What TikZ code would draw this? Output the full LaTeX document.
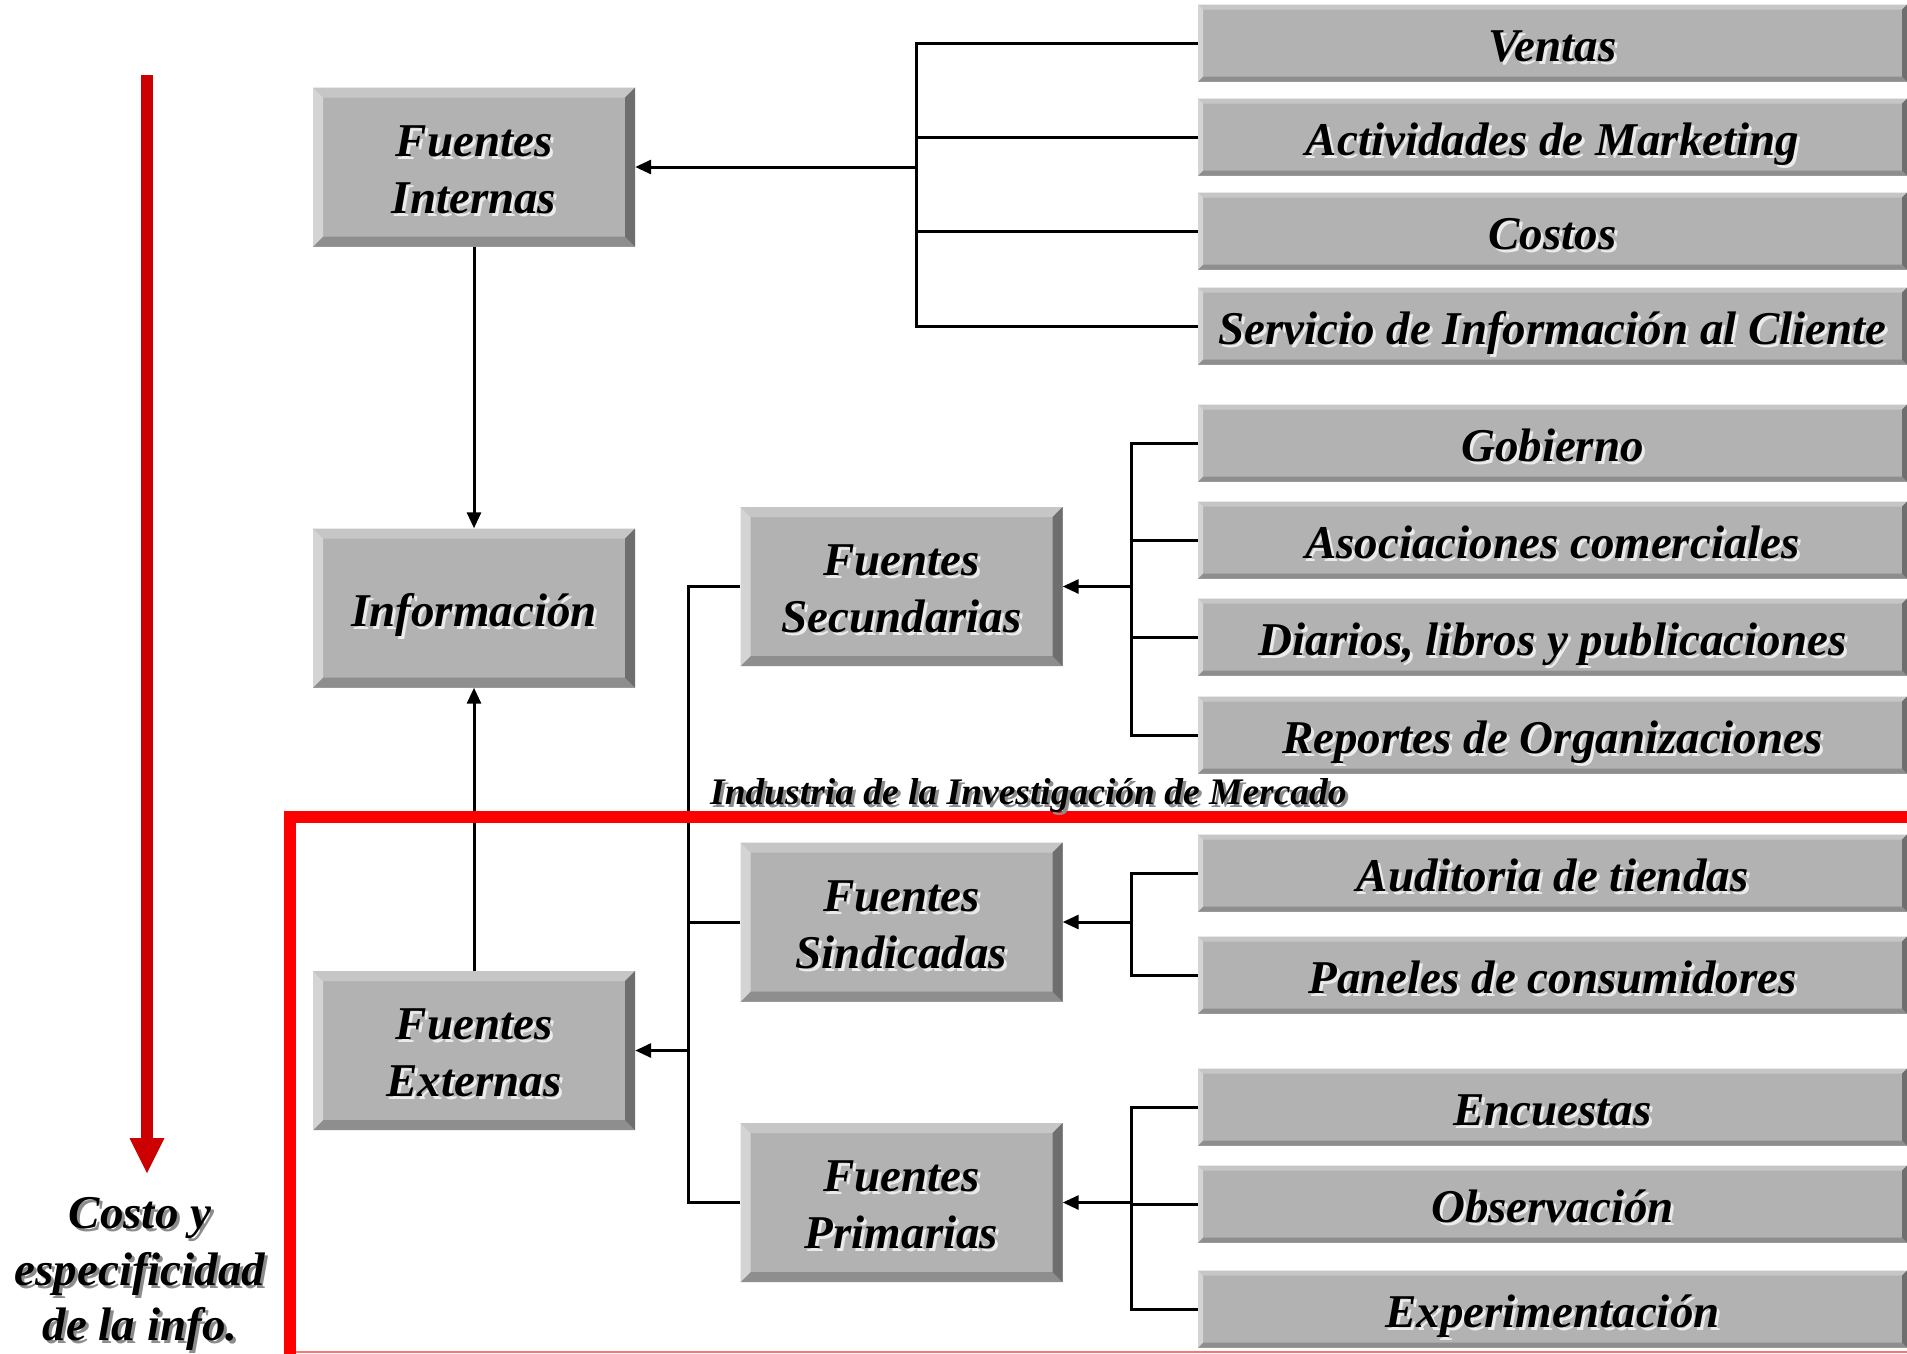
\documentclass[tikz,border=0pt]{standalone}
\usepackage{fontspec}
\setmainfont{Liberation Serif}
\usetikzlibrary{arrows.meta,calc}
\definecolor{face}{HTML}{B2B2B2}
\definecolor{bvT}{HTML}{C6C6C6}
\definecolor{bvL}{HTML}{D4D4D4}
\definecolor{bvR}{HTML}{6E6E6E}
\definecolor{bvB}{HTML}{8E8E8E}
\definecolor{darkred}{HTML}{CC0000}
\definecolor{brightred}{HTML}{FF0000}
\tikzset{
  bevbox/.style={rectangle, fill=face, inner sep=0pt, path picture={
    \fill[bvT] (path picture bounding box.north west) -- (path picture bounding box.north east)
       -- ([xshift=-#1,yshift=-#1]path picture bounding box.north east)
       -- ([xshift=#1,yshift=-#1]path picture bounding box.north west) -- cycle;
    \fill[bvB] (path picture bounding box.south west) -- ([xshift=#1,yshift=#1]path picture bounding box.south west)
       -- ([xshift=-#1,yshift=#1]path picture bounding box.south east)
       -- (path picture bounding box.south east) -- cycle;
    \fill[bvL] (path picture bounding box.north west) -- ([xshift=#1,yshift=-#1]path picture bounding box.north west)
       -- ([xshift=#1,yshift=#1]path picture bounding box.south west)
       -- (path picture bounding box.south west) -- cycle;
    \fill[bvR] (path picture bounding box.north east) -- (path picture bounding box.south east)
       -- ([xshift=-#1,yshift=#1]path picture bounding box.south east)
       -- ([xshift=-#1,yshift=-#1]path picture bounding box.north east) -- cycle;
  }},
  bigbox/.style={bevbox=10pt, minimum width=322pt, minimum height=159pt},
  rbox/.style={bevbox=5pt, minimum width=709pt, minimum height=77pt},
  txt/.style={font=\fontsize{47}{57}\selectfont\bfseries\itshape, inner sep=0pt, anchor=base},
  shin/.style={txt, text=white, opacity=0.75},
  shout/.style={text=black!45},
  ln/.style={line width=3pt, black},
  arr/.style={ln, -{Triangle[length=16pt,width=14pt]}},
}
\newcommand\Tx[4][shin]{%
  \node[#1] (#2s) at ($(#3)+(3,3)$) {#4};
  \node[txt] (#2) at (#3) {#4};}
\begin{document}
\begin{tikzpicture}[x=1pt,y=-1pt]
\useasboundingbox (0,0) rectangle (1907,1353);
\fill[white] (0,0) rectangle (1907,1353);

% left boxes
\node[bigbox] (fi)   at (474,167)   {};
\node[bigbox] (info) at (474,608)   {};
\node[bigbox] (fe)   at (474,1050.5){};
\node[bigbox] (fsec) at (901.5,586.5){};
\node[bigbox] (fsin) at (901.5,922) {};
\node[bigbox] (fpri) at (901.5,1202.5){};

% right boxes
\node[rbox] (ven)  at (1552.5,43)  {};
\node[rbox] (act)  at (1552.5,137) {};
\node[rbox] (cos)  at (1552.5,231) {};
\node[rbox] (ser)  at (1552.5,326) {};
\node[rbox] (gob)  at (1552.5,443) {};
\node[rbox] (aso)  at (1552.5,540) {};
\node[rbox] (dia)  at (1552.5,637) {};
\node[rbox] (rep)  at (1552.5,735) {};
\node[rbox] (aud)  at (1552.5,873) {};
\node[rbox] (pan)  at (1552.5,975) {};
\node[rbox] (enc)  at (1552.5,1107){};
\node[rbox] (obs)  at (1552.5,1204){};
\node[rbox] (exp)  at (1552.5,1309){};

% bus coordinates
\coordinate (bus1) at (916,0);
\coordinate (bus2) at (1131,0);
\coordinate (bus3) at (688,0);

% connectors: internas
\draw[ln] (ven.west) -- (ven.west -| bus1) -- (ser.west -| bus1) -- (ser.west);
\draw[ln] (act.west) -- (act.west -| bus1);
\draw[ln] (cos.west) -- (cos.west -| bus1);
\draw[arr] (fi.east -| bus1) -- (fi.east);
% secundarias
\draw[ln] (gob.west) -- (gob.west -| bus2) -- (rep.west -| bus2) -- (rep.west);
\draw[ln] (aso.west) -- (aso.west -| bus2);
\draw[ln] (dia.west) -- (dia.west -| bus2);
\draw[arr] (fsec.east -| bus2) -- (fsec.east);
% sindicadas
\draw[ln] (aud.west) -- (aud.west -| bus2) -- (pan.west -| bus2) -- (pan.west);
\draw[arr] (fsin.east -| bus2) -- (fsin.east);
% primarias
\draw[ln] (enc.west) -- (enc.west -| bus2) -- (exp.west -| bus2) -- (exp.west);
\draw[ln] (obs.west) -- (obs.west -| bus2);
\draw[arr] (fpri.east -| bus2) -- (fpri.east);
% externas
\draw[ln] (fsec.west) -- (fsec.west -| bus3) -- (fpri.west -| bus3) -- (fpri.west);
\draw[ln] (fsin.west) -- (fsin.west -| bus3);
\draw[arr] (fe.east -| bus3) -- (fe.east);
% to informacion
\draw[arr] (fi.south) -- (info.north);
\draw[arr] (fe.north) -- (info.south);

% red frame
\draw[brightred, line width=12pt] (290,1360) -- (290,817) -- (1915,817);
\draw[brightred!55, line width=2pt] (296,1352) -- (1907,1352);

% red arrow
\fill[darkred] (141,75) rectangle (153,1139);
\fill[darkred] (129.5,1138) -- (164.5,1138) -- (147,1173) -- cycle;

% box texts
\Tx{tfi1}{$(fi)+(0,-11)$}{Fuentes}
\Tx{tfi2}{$(fi)+(0,46)$}{Internas}
\Tx{tinf}{$(info)+(0,18)$}{Información}
\Tx{tfe1}{$(fe)+(0,-11)$}{Fuentes}
\Tx{tfe2}{$(fe)+(0,46)$}{Externas}
\Tx{tse1}{$(fsec)+(0,-11)$}{Fuentes}
\Tx{tse2}{$(fsec)+(0,46)$}{Secundarias}
\Tx{tsi1}{$(fsin)+(0,-11)$}{Fuentes}
\Tx{tsi2}{$(fsin)+(0,46)$}{Sindicadas}
\Tx{tpr1}{$(fpri)+(0,-11)$}{Fuentes}
\Tx{tpr2}{$(fpri)+(0,46)$}{Primarias}

\Tx{tven}{$(ven)+(0,18)$}{Ventas}
\Tx{tact}{$(act)+(0,18)$}{Actividades de Marketing}
\Tx{tcos}{$(cos)+(0,18)$}{Costos}
\Tx{tser}{$(ser)+(0,18)$}{Servicio de Información al Cliente}
\Tx{tgob}{$(gob)+(0,18)$}{Gobierno}
\Tx{taso}{$(aso)+(0,18)$}{Asociaciones comerciales}
\Tx{tdia}{$(dia)+(0,18)$}{Diarios, libros y publicaciones}
\Tx{trep}{$(rep)+(0,18)$}{Reportes de Organizaciones}
\Tx{taud}{$(aud)+(0,18)$}{Auditoria de tiendas}
\Tx{tpan}{$(pan)+(0,18)$}{Paneles de consumidores}
\Tx{tenc}{$(enc)+(0,18)$}{Encuestas}
\Tx{tobs}{$(obs)+(0,18)$}{Observación}
\Tx{texp}{$(exp)+(0,18)$}{Experimentación}

% outside texts
\coordinate (c1) at (140,1228);
\coordinate (c2) at (140,1285);
\coordinate (c3) at (140,1340);
\Tx[txt,shout]{tc1}{c1}{Costo y}
\Tx[txt,shout]{tc2}{c2}{especificidad}
\Tx[txt,shout]{tc3}{c3}{de la info.}
\node[txt, shout, anchor=base west, font=\fontsize{37.5}{44}\selectfont\bfseries\itshape] (tinds) at (713,807) {Industria de la Investigación de Mercado};
\node[txt, anchor=base west, font=\fontsize{37.5}{44}\selectfont\bfseries\itshape] (tind) at (710,804) {Industria de la Investigación de Mercado};
\end{tikzpicture}
\end{document}
